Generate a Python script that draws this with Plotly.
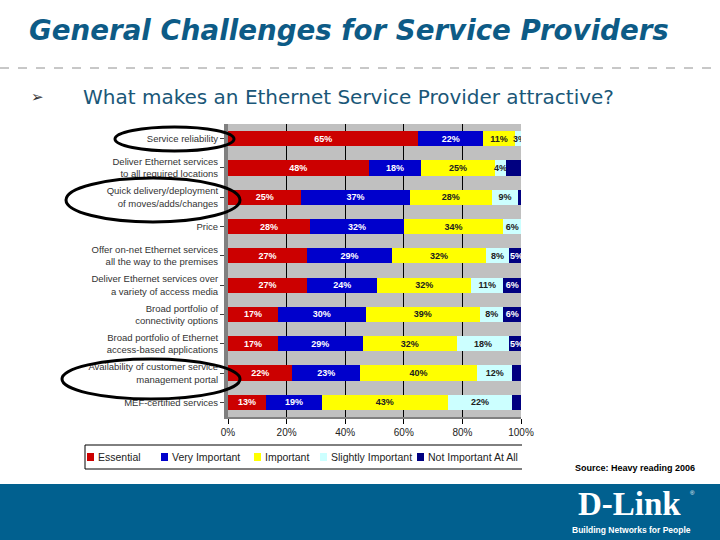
import plotly.graph_objects as go

# survey data (Heavy Reading), % of respondents
categories = [
    "Service reliability",
    "Deliver Ethernet services<br>to all required locations",
    "Quick delivery/deployment<br>of moves/adds/changes",
    "Price",
    "Offer on-net Ethernet services<br>all the way to the premises",
    "Deliver Ethernet services over<br>a variety of access media",
    "Broad portfolio of<br>connectivity options",
    "Broad portfolio of Ethernet<br>access-based applications",
    "Availability of customer service<br>management portal",
    "MEF-certified services",
]
essential = [65, 48, 25, 28, 27, 27, 17, 17, 22, 13]
very_important = [22, 18, 37, 32, 29, 24, 30, 29, 23, 19]
important = [11, 25, 28, 34, 32, 32, 39, 32, 40, 43]
slightly_important = [3, 4, 9, 6, 8, 11, 8, 18, 12, 22]
not_important = [1, 5, 2, 0, 5, 6, 6, 5, 3, 3]
# which "not important" segments carry a printed label
not_important_shown = [False, False, False, False, True, True, True, True, False, False]

series_names = ["Essential", "Very Important", "Important",
                "Slightly Important", "Not Important At All"]
series_colors = ["#cc0000", "#0000cc", "#ffff00", "#ccffff", "#000080"]
text_colors = ["white", "white", "#202020", "#202020", "white"]

tick_vals = [0, 20, 40, 60, 80, 100]
tick_text = ["0%", "20%", "40%", "60%", "80%", "100%"]

BLUE = "#0d5b86"
W, H = 720, 540


def px(x):
    return x / W


def py(y):
    return 1 - y / H


fig = go.Figure()

all_series = [essential, very_important, important, slightly_important, not_important]
for i, vals in enumerate(all_series):
    if i == 4:
        labels = [f"<b>{v}%</b>" if s else "" for v, s in zip(vals, not_important_shown)]
    else:
        labels = [f"<b>{v}%</b>" for v in vals]
    fig.add_trace(go.Bar(
        y=categories, x=vals, orientation="h",
        name=series_names[i],
        marker=dict(color=series_colors[i], line=dict(width=0)),
        text=labels, textposition="inside", insidetextanchor="middle",
        textangle=0,
        insidetextfont=dict(family="Liberation Sans", size=9, color=text_colors[i]),
        hoverinfo="skip",
        showlegend=False,
    ))

fig.update_layout(
    template="none",
    width=W, height=H,
    autosize=False,
    margin=dict(l=0, r=0, t=0, b=0, pad=0, autoexpand=False),
    paper_bgcolor="white",
    plot_bgcolor="#c0c0c0",
    barmode="stack",
    bargap=0.48,
    uniformtext=dict(minsize=9, mode="show"),
    xaxis=dict(
        domain=[px(228), px(521)],
        range=[0, 100],
        tickvals=tick_vals, ticktext=tick_text,
        showgrid=True, gridcolor="black", gridwidth=1,
        ticks="outside", ticklen=5, tickcolor="black",
        showline=True, linecolor="#808080", linewidth=2,
        tickfont=dict(family="Liberation Sans", size=10, color="#222222"),
        zeroline=False, fixedrange=True, automargin=False,
    ),
    yaxis=dict(
        domain=[py(417), py(124)],
        autorange="reversed",
        ticks="outside", ticklen=4, tickcolor="#404040",
        showline=True, linecolor="#808080", linewidth=4,
        showgrid=False, zeroline=False,
        tickfont=dict(family="Liberation Sans", size=9.5, color="#333333"),
        fixedrange=True, automargin=False,
    ),
)

shapes = []
annotations = []

# slide title and separator
annotations.append(dict(
    x=px(27), y=py(31), xref="paper", yref="paper", xanchor="left", yanchor="middle",
    text="<b><i>General Challenges for Service Providers</i></b>", showarrow=False,
    font=dict(family="DejaVu Sans", size=27.7, color=BLUE),
))
shapes.append(dict(type="line", xref="paper", yref="paper",
                   x0=0, x1=1, y0=py(68), y1=py(68),
                   line=dict(color="#909090", width=1, dash="dash")))
annotations.append(dict(
    x=px(29), y=py(97), xref="paper", yref="paper", xanchor="left", yanchor="middle",
    text="➢", showarrow=False,
    font=dict(family="DejaVu Sans", size=15, color="#333333"),
))
annotations.append(dict(
    x=px(81), y=py(97), xref="paper", yref="paper", xanchor="left", yanchor="middle",
    text="What makes an Ethernet Service Provider attractive?", showarrow=False,
    font=dict(family="DejaVu Sans", size=20, color="#1a5778"),
))

# highlight ellipses
for x0, x1, y0, y1 in [(115, 234, 127, 151), (66, 240, 178, 222), (62, 240, 359, 399)]:
    shapes.append(dict(type="circle", xref="paper", yref="paper",
                       x0=px(x0), x1=px(x1), y0=py(y1), y1=py(y0),
                       line=dict(color="black", width=3)))

# legend box (open at right as in the source)
lx0, lx1, ly0, ly1 = px(85), px(522), py(469), py(445)
shapes.append(dict(type="path", xref="paper", yref="paper",
                   path=f"M {lx1},{ly0} L {lx0},{ly0} L {lx0},{ly1} L {lx1},{ly1}",
                   line=dict(color="black", width=1)))
legend_x = [87, 161, 254, 320, 417]
for name, color, lx in zip(series_names, series_colors, legend_x):
    shapes.append(dict(type="rect", xref="paper", yref="paper",
                       x0=px(lx), x1=px(lx + 7), y0=py(461), y1=py(453),
                       fillcolor=color, line=dict(width=0)))
    annotations.append(dict(
        x=px(lx + 9), y=py(457), xref="paper", yref="paper",
        xanchor="left", yanchor="middle", text=name, showarrow=False,
        font=dict(family="Liberation Sans", size=10.5, color="#222222"),
    ))

annotations.append(dict(
    x=px(697), y=py(468), xref="paper", yref="paper", xanchor="right", yanchor="middle",
    text="<b>Source: Heavy reading 2006</b>", showarrow=False,
    font=dict(family="Liberation Sans", size=9, color="black"),
))

# footer band with logo
shapes.append(dict(type="rect", xref="paper", yref="paper", layer="below",
                   x0=0, x1=1, y0=0, y1=py(484),
                   fillcolor="#01608f", line=dict(width=0)))
annotations.append(dict(
    x=px(629), y=py(504), xref="paper", yref="paper", xanchor="center", yanchor="middle",
    text="<b>D-Link</b>", showarrow=False, borderpad=0,
    font=dict(family="Liberation Serif", size=33, color="white"),
))
annotations.append(dict(
    x=px(692), y=py(493), xref="paper", yref="paper", xanchor="center", yanchor="middle",
    text="®", showarrow=False, borderpad=0,
    font=dict(family="Liberation Sans", size=6, color="white"),
))
annotations.append(dict(
    x=px(631), y=py(530), xref="paper", yref="paper", xanchor="center", yanchor="middle",
    text="<b>Building Networks for People</b>", showarrow=False, borderpad=0,
    font=dict(family="Liberation Sans Narrow, Liberation Sans", size=8.5, color="white"),
))

fig.update_layout(shapes=shapes, annotations=annotations)

# pin the figure to the top-left corner of the page at its full size
pin_script = """
document.documentElement.style.margin = '0';
document.documentElement.style.overflow = 'hidden';
document.body.style.margin = '0';
document.body.style.overflow = 'hidden';
var gd = document.getElementById('{plot_id}');
gd.style.position = 'fixed';
gd.style.left = '0px';
gd.style.top = '0px';
"""

fig.write_html("out.html", config={"displayModeBar": False}, post_script=pin_script)
